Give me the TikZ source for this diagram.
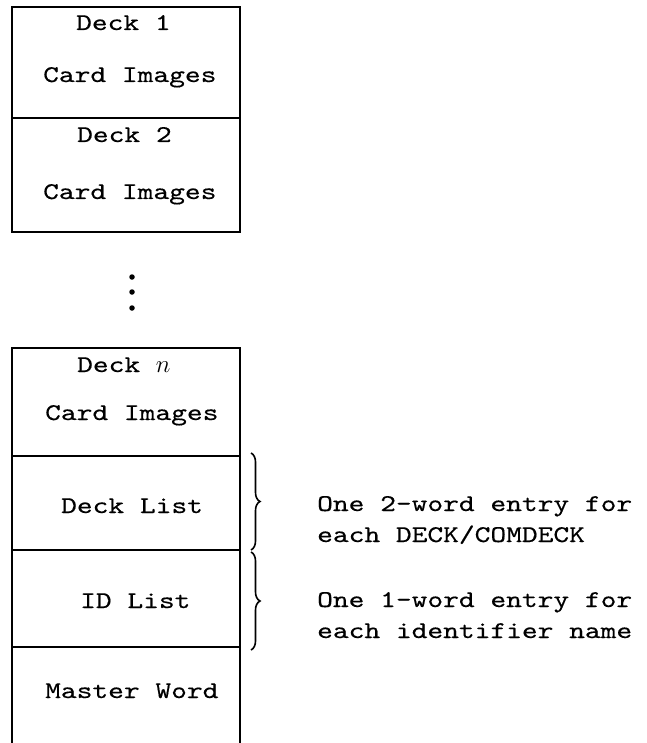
\documentclass[tikz,border=0pt]{standalone}
\usepackage{fontspec}
\setmonofont{lmmono10-regular.otf}[FakeStretch=1.25,FakeBold=0.35]
\usetikzlibrary{decorations.pathreplacing}
\tikzset{
  box/.style={line width=1.3pt},
  lbl/.style={font=\fontsize{24}{30}\selectfont\ttfamily, anchor=base west, inner sep=0pt},
  note/.style={font=\fontsize{24}{31}\selectfont\ttfamily, anchor=base west, inner sep=0pt, align=left},
  brc/.style={line width=1.6pt, decorate, decoration={brace, amplitude=9pt}},
  dot/.style={fill=black, circle, inner sep=0pt, minimum size=5.5pt}
}
\begin{document}
\begin{tikzpicture}[x=1pt, y=-1pt]
\useasboundingbox (0,0) rectangle (646,743);
% upper stack
\draw[box] (12,7) rectangle (240,232);
\draw[box] (12,118) -- (240,118);
\node[lbl] (d1) at (76,30) {Deck 1};
\node[lbl] (c1) at (43,82) {Card Images};
\node[lbl] (d2) at (77,142) {Deck 2};
\node[lbl] (c2) at (43,199) {Card Images};
% dots
\node[dot] (p1) at (132,277) {};
\node[dot] (p2) at (132,292) {};
\node[dot] (p3) at (132,308) {};
% lower stack
\draw[box] (12,743) -- (12,348) -- (240,348) -- (240,743);
\draw[box] (12,456) -- (240,456);
\draw[box] (12,550) -- (240,550);
\draw[box] (12,647) -- (240,647);
\node[lbl] (dn) at (77,372) {Deck $n$};
\node[lbl] (cn) at (45,420) {Card Images};
\node[lbl] (dl) at (61,513) {Deck List};
\node[lbl] (il) at (80,608) {ID List};
\node[lbl] (mw) at (45,698) {Master Word};
% braces
\coordinate (b1t) at (251,453);
\coordinate (b1b) at (251,550);
\coordinate (b2t) at (251,552);
\coordinate (b2b) at (251,650);
\draw[brc] (b1t) -- (b1b);
\draw[brc] (b2t) -- (b2b);
\node[note] (n1) at (317,542) {One 2-word entry for\\each DECK/COMDECK};
\node[note] (n2) at (317,638) {One 1-word entry for\\each identifier name};
\end{tikzpicture}
\end{document}
